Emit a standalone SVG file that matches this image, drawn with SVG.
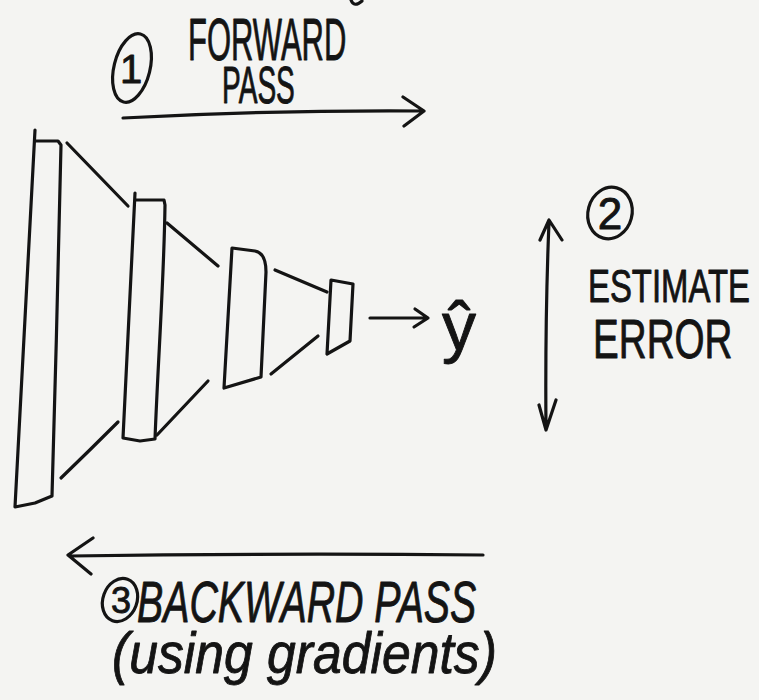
<svg xmlns="http://www.w3.org/2000/svg" width="759" height="700" viewBox="0 0 759 700">
  <style>
    .ink { fill: none; stroke: #141414; stroke-width: 3.2; stroke-linecap: round; stroke-linejoin: round; }
    .hand { font-family: "Liberation Sans", Arial, sans-serif; fill: #141414; stroke: #141414; stroke-width: 0.9; stroke-linejoin: round; }
    .slant { font-style: italic; }
  </style>
  <rect width="759" height="700" fill="#f4f4f2"/>

  <!-- layers of the network, largest to smallest -->
  <g id="layer1">
    <path class="ink" d="M35,130 L15,507 L35,503 L52,496 C55,380 59,260 61,145 L58,141 L35,141"/>
  </g>
  <g id="layer2">
    <path class="ink" d="M135,193 L123,438 L140,441 L155,439 C158,360 164,280 165,205 L164,200 L135,200"/>
  </g>
  <g id="layer3">
    <path class="ink" d="M232,248 L255,251 Q266,253 266,272 L261,377 L224,388 L232,248 Z"/>
  </g>
  <g id="layer4">
    <path class="ink" d="M331,280 L353,284 L350,341 L327,354 Z"/>
  </g>
  <g id="output">
    <text class="hand" x="459" y="350" font-size="68" text-anchor="middle">ŷ</text>
  </g>

  <!-- funnel edges between layers and the three process arrows -->
  <g id="connectors">
    <path class="ink" d="M67,143 L128,206"/>
    <path class="ink" d="M61,478 Q90,450 118,422"/>
    <path class="ink" d="M167,223 L218,266"/>
    <path class="ink" d="M157,435 L208,381"/>
    <path class="ink" d="M275,270 L327,292"/>
    <path class="ink" d="M271,374 L318,336"/>
    <!-- layer4 to prediction -->
    <path class="ink" d="M370,318 L428,318 M415,309 L428,318 L414,327"/>
    <!-- forward pass -->
    <path class="ink" d="M123,118 Q270,110 423,111 M403,97 L424,111 L404,126"/>
    <!-- estimate error -->
    <path class="ink" d="M549,222 Q545,320 546,430 M540,240 L549,220 L562,240 M539,405 L546,430 L556,400"/>
    <!-- backward pass -->
    <path class="ink" d="M483,555 Q280,553 70,556 M93,538 L68,555 L91,574"/>
  </g>

  <!-- step labels; narrow lettering is done by scaling x -->
  <g id="step1">
    <ellipse class="ink" cx="132" cy="68" rx="18" ry="35" transform="rotate(14 132 68)"/>
    <text class="hand" x="131" y="83" font-size="40" text-anchor="middle">1</text>
    <text class="hand" transform="translate(188 60) scale(0.525 1)" font-size="59">FORWARD</text>
    <text class="hand" transform="translate(222 103) scale(0.551 1)" font-size="51">PASS</text>
  </g>
  <g id="step2">
    <ellipse class="ink" cx="610" cy="213" rx="22" ry="26" transform="rotate(15 610 213)"/>
    <text class="hand" x="610" y="229" font-size="44" text-anchor="middle">2</text>
    <text class="hand" transform="translate(588 302) scale(0.715 1)" font-size="46">ESTIMATE</text>
    <text class="hand" transform="translate(593 358) scale(0.69 1)" font-size="56">ERROR</text>
  </g>
  <g id="step3">
    <ellipse class="ink" cx="120" cy="600" rx="17" ry="22" transform="rotate(20 120 600)"/>
    <text class="hand" x="121" y="613" font-size="36" text-anchor="middle">3</text>
    <text class="hand slant" transform="translate(137 622) scale(0.678 1)" font-size="58">BACKWARD PASS</text>
    <text class="hand slant" transform="translate(112 673) scale(0.891 1)" font-size="58">(using gradients)</text>
  </g>

  <!-- stray pen stroke at the top edge -->
  <path class="ink" d="M351,0 Q354,8 362,1"/>
</svg>
